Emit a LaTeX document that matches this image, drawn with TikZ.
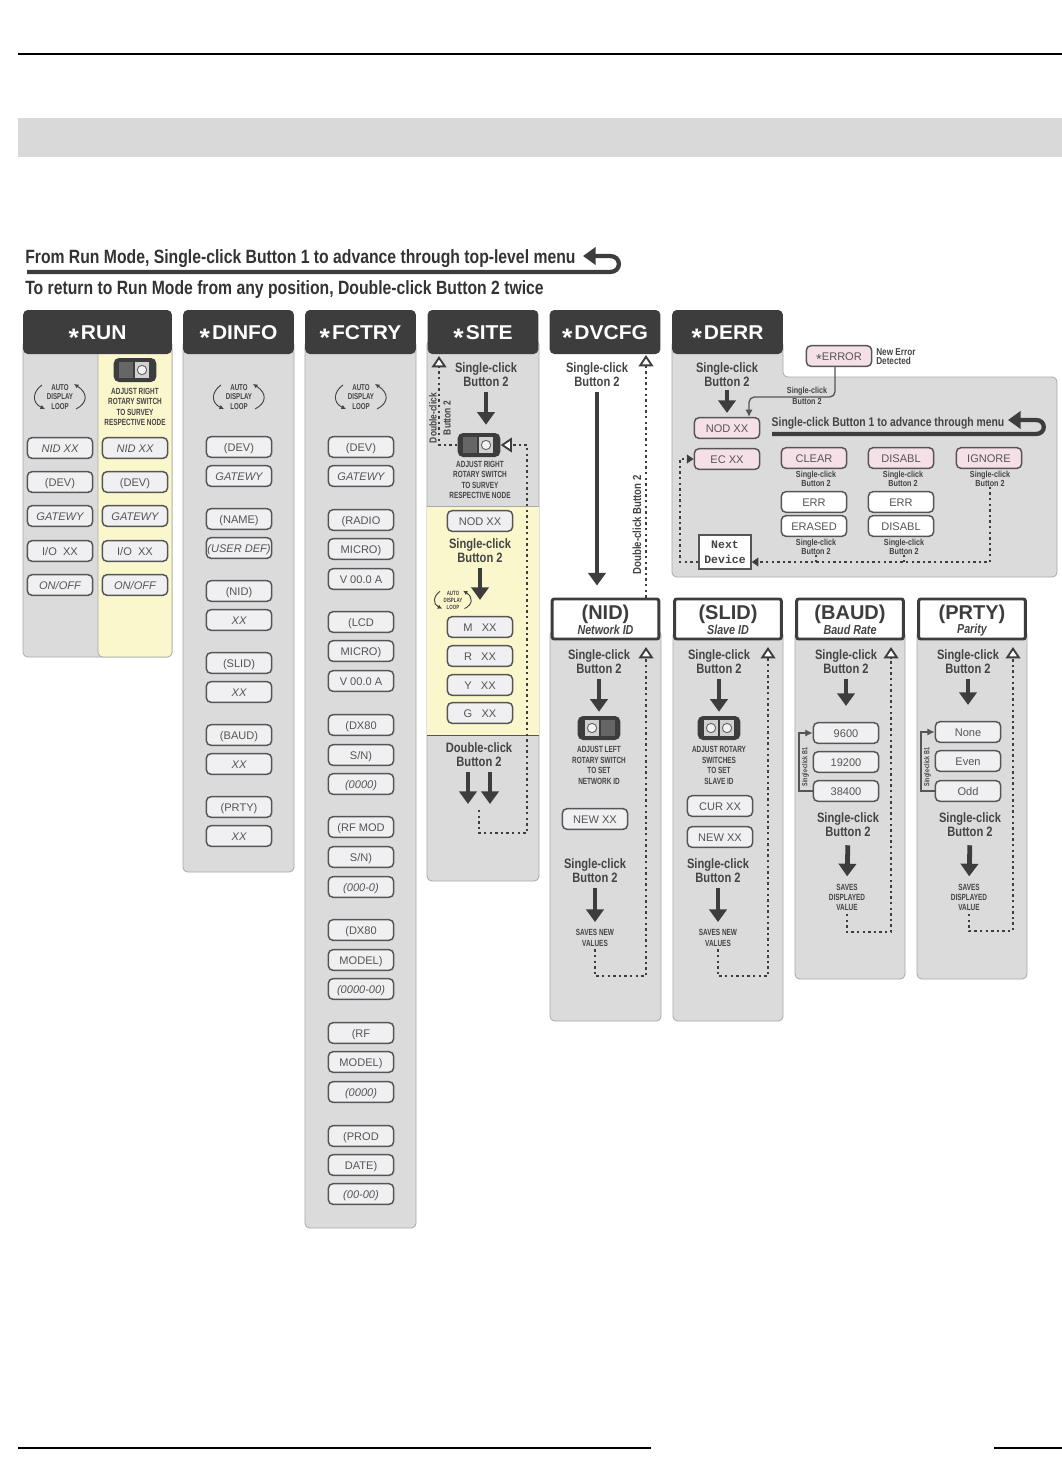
\documentclass[tikz,border=0pt]{standalone}
\usepackage{fontspec}
\setmainfont{Liberation Sans}
\setmonofont{Liberation Mono}
\newfontfamily\condfont[FakeStretch=0.82]{Liberation Sans}
\newfontfamily\tinyfont[FakeStretch=0.72]{Liberation Sans}
\newfontfamily\widefont[FakeStretch=1.05]{Liberation Sans}
\usepackage{xcolor}
\usetikzlibrary{arrows.meta,positioning,calc}
\definecolor{hdrdark}{HTML}{3D3D3D}
\definecolor{panelgray}{HTML}{DBDBDB}
\definecolor{paneledge}{HTML}{A8A8A8}
\definecolor{bandgray}{HTML}{D9D9D9}
\definecolor{noteyellow}{HTML}{FBF7CD}
\definecolor{disppink}{HTML}{F6E0E8}
\definecolor{dispfill}{HTML}{F0F0F2}
\definecolor{dispedge}{HTML}{555555}
\definecolor{inktext}{HTML}{444444}
\newcommand{\hstar}{\raisebox{-5.5pt}[0pt][0pt]{\fontsize{19}{19}\selectfont *}\hspace{1.5pt}}
\newcommand{\lstar}{\raisebox{-3pt}[0pt][0pt]{\fontsize{11}{11}\selectfont *}}

\tikzset{
    autoloop/.pic={
        \node[loopword] (-txt) at (0,0) {AUTO\\DISPLAY\\LOOP};
        \draw[loopline] (-18,-12) .. controls (-28,-5) and (-28,6) .. (-15,12);
        \draw[loopline] (16,12) .. controls (28,6) and (28,-4) .. (14,-13);
    },
    switchright/.pic={
        \node[switchbody] (-body) at (0,0) {};
        \node[switchdark] (-dark) at (-9,0) {};
        \node[switchface] (-face) at (7,0) {};
        \node[switchdial] (-dial) at (7,0) {};
    },
    switchleft/.pic={
        \node[switchbody] (-body) at (0,0) {};
        \node[switchdark] (-dark) at (9,0) {};
        \node[switchface] (-face) at (-7,0) {};
        \node[switchdial] (-dial) at (-7,0) {};
    },
    switchboth/.pic={
        \node[switchbody] (-body) at (0,0) {};
        \node[switchface] (-facea) at (-8,0) {};
        \node[switchdial] (-diala) at (-8,0) {};
        \node[switchface] (-faceb) at (8,0) {};
        \node[switchdial] (-dialb) at (8,0) {};
    }
}

\begin{document}
\begin{tikzpicture}[
    x=0.75pt, y=-0.75pt,
    disp/.style={rectangle, draw=dispedge, fill=dispfill, rounded corners=3.5pt, line width=1.1pt, minimum width=49pt, minimum height=15.5pt, inner sep=0pt, text height=6pt, text depth=0pt, text=dispedge, font=\fontsize{8.3}{9}\selectfont},
    dispit/.style={disp, font=\fontsize{8.3}{9}\selectfont\itshape},
    pinkdisp/.style={disp, fill=disppink},
    whitedisp/.style={disp, fill=white},
    hdr/.style={rectangle, fill=hdrdark, rounded corners=3.5pt, minimum width=83pt, minimum height=33pt, inner sep=0pt, text height=10.8pt, text depth=0pt, text=white, font=\widefont\fontsize{15}{16}\selectfont\bfseries},
    hdrbox/.style={rectangle, draw=hdrdark, fill=white, rounded corners=1.5pt, line width=2.2pt, minimum width=80pt, minimum height=30pt, inner sep=0pt},
    hdrname/.style={inner sep=0pt, text=hdrdark, font=\fontsize{15}{16}\selectfont\bfseries},
    hdrsub/.style={inner sep=0pt, text=inktext, font=\condfont\fontsize{9.8}{10}\selectfont\bfseries\itshape},
    panel/.style={draw=paneledge, fill=panelgray, line width=0.6pt, rounded corners=3.5pt},
    notepart/.style={draw=paneledge, fill=noteyellow, line width=0.5pt, rounded corners=3.5pt},
    clicktxt/.style={align=center, inner sep=0pt, text=inktext, font=\condfont\fontsize{10.2}{10.5}\selectfont\bfseries},
    smallclick/.style={align=center, inner sep=0pt, text=inktext, font=\condfont\fontsize{6.6}{6.4}\selectfont\bfseries},
    fineprint/.style={align=center, inner sep=0pt, text=inktext, font=\tinyfont\fontsize{6.7}{7.8}\selectfont\bfseries},
    headtxt/.style={anchor=west, inner sep=0pt, text=black!80, font=\condfont\fontsize{14.4}{16}\selectfont\bfseries},
    loopword/.style={align=center, inner sep=0pt, text=inktext, font=\tinyfont\fontsize{6.4}{7.4}\selectfont\bfseries},
    loopline/.style={draw=inktext, line width=0.7pt, -{Latex[length=3.4pt,width=3.4pt]}},
    switchbody/.style={rectangle, fill=hdrdark, rounded corners=4pt, minimum width=32pt, minimum height=18pt, inner sep=0pt},
    switchdark/.style={rectangle, fill=black!60, minimum width=10pt, minimum height=12pt, inner sep=0pt},
    switchface/.style={rectangle, fill=black!18, minimum width=11pt, minimum height=12pt, inner sep=0pt},
    switchdial/.style={circle, draw=black!60, fill=black!5, line width=0.7pt, minimum size=7pt, inner sep=0pt},
    bigdown/.style={draw=hdrdark, line width=3.6pt, -{Triangle[length=9.5pt,width=13pt]}, shorten <=3.5pt},
    hook/.style={draw=hdrdark, line width=3.2pt, -{Triangle[length=9.5pt,width=13pt]}},
    dotline/.style={draw=hdrdark, line width=2pt, dash pattern=on 1.8pt off 2.4pt},
    dotback/.style={dotline, -{Triangle[open,fill=white,length=8.5pt,width=11pt,line width=1.4pt]}},
    dotfwd/.style={dotline, -{Triangle[length=5pt,width=6.5pt]}},
    thinlink/.style={draw=dispedge, line width=1pt, rounded corners=4pt, -{Latex[length=5.5pt,width=5.5pt]}}
]
    \useasboundingbox (0,0) rectangle (1062,1480);

    % Page rules and band
    \draw[black, line width=1.2pt] (18,54) -- (1062,54);
    \fill[bandgray] (18,118) rectangle (1062,157);
    \draw[black, line width=1.2pt] (18,1448) -- (651,1448);
    \draw[black, line width=1.2pt] (994,1448) -- (1062,1448);

    % Top instruction
    \node[headtxt] (toptxt) at (25,258.5) {From Run Mode, Single-click Button 1 to advance through top-level menu};
    \node[headtxt] (returntxt) at (25,289.5) {To return to Run Mode from any position, Double-click Button 2 twice};
    \coordinate (hookstart) at (27,272);
    \coordinate (hookturn) at (610,272);
    \coordinate (hookback) at (610,256);
    \coordinate (hookend) at (583,256);
    \draw[hook] (hookstart) -- (hookturn) to[out=0,in=0,looseness=1.9] (hookback) -- (hookend);

    % Panels
    \draw[panel] (23,340) rectangle (172,657);
    \draw[notepart] (98,345) rectangle (172,657);
    \draw[panel] (183,340) rectangle (294,872);
    \draw[panel] (305,340) rectangle (416,1228);
    \draw[panel] (427,340) rectangle (539,881);
    \fill[noteyellow] (427,506) rectangle (539,735);
    \draw[paneledge, line width=0.7pt] (427,506) -- (539,506);
    \draw[dispedge, line width=0.7pt] (427,735) -- (539,735);
    \draw[panel] (672,340) -- (672,577) -- (1057,577) -- (1057,377) -- (783,377) -- (783,340) -- cycle;
    \draw[panel] (550,630) rectangle (661,1021);
    \draw[panel] (673,630) rectangle (783,1021);
    \draw[panel] (795,630) rectangle (905,979);
    \draw[panel] (917,630) rectangle (1027,979);

    % Headers
    \node[hdr, minimum width=111.5pt] (runhdr) at (97.5,332) {\hstar RUN};
    \node[hdr] (dinfohdr) at (238.5,332) {\hstar DINFO};
    \node[hdr] (fctryhdr) at (360.5,332) {\hstar FCTRY};
    \node[hdr] (sitehdr) at (483,332) {\hstar SITE};
    \node[hdr] (dvcfghdr) at (605,332) {\hstar DVCFG};
    \node[hdr] (derrhdr) at (727.5,332) {\hstar DERR};
    \node[hdrbox] (nidhdr) at (605.5,619) {};
    \node[hdrbox] (slidhdr) at (728,619) {};
    \node[hdrbox] (baudhdr) at (850,619) {};
    \node[hdrbox] (prtyhdr) at (972,619) {};
    \node[hdrname] (nidname) at (605.5,614.5) {(NID)};
    \node[hdrname] (slidname) at (728,614.5) {(SLID)};
    \node[hdrname] (baudname) at (850,614.5) {(BAUD)};
    \node[hdrname] (prtyname) at (972,614.5) {(PRTY)};
    \node[hdrsub] (nidsub) at (605.5,630) {Network ID};
    \node[hdrsub] (slidsub) at (728,630) {Slave ID};
    \node[hdrsub] (baudsub) at (850,630) {Baud Rate};
    \node[hdrsub] (prtysub) at (972,630) {Parity};

    % RUN
    \pic (runloop) at (60,397) {autoloop};
    \pic (runswitch) at (135,370) {switchright};
    \node[fineprint] (runnote) at (135,407) {ADJUST RIGHT\\ROTARY SWITCH\\TO SURVEY\\RESPECTIVE NODE};
    \node[dispit] (runa) at (60,448) {NID XX};
    \node[disp] (runb) at (60,482) {(DEV)};
    \node[dispit] (runc) at (60,516) {GATEWY};
    \node[disp] (rund) at (60,551) {I/O\ \ XX};
    \node[dispit] (rune) at (60,585) {ON/OFF};
    \node[dispit] (runf) at (135,448) {NID XX};
    \node[disp] (rung) at (135,482) {(DEV)};
    \node[dispit] (runh) at (135,516) {GATEWY};
    \node[disp] (runi) at (135,551) {I/O\ \ XX};
    \node[dispit] (runj) at (135,585) {ON/OFF};

    % DINFO
    \pic (dinfoloop) at (239,397) {autoloop};
    \node[disp] (dinfoa) at (239,447) {(DEV)};
    \node[dispit] (dinfob) at (239,476) {GATEWY};
    \node[disp] (dinfoc) at (239,519) {(NAME)};
    \node[dispit] (dinfod) at (239,548) {(USER DEF)};
    \node[disp] (dinfoe) at (239,591) {(NID)};
    \node[dispit] (dinfof) at (239,620) {XX};
    \node[disp] (dinfog) at (239,663) {(SLID)};
    \node[dispit] (dinfoh) at (239,692) {XX};
    \node[disp] (dinfoi) at (239,735) {(BAUD)};
    \node[dispit] (dinfoj) at (239,764) {XX};
    \node[disp] (dinfok) at (239,807) {(PRTY)};
    \node[dispit] (dinfol) at (239,836) {XX};

    % FCTRY
    \pic (fctryloop) at (361,397) {autoloop};
    \node[disp] (fctrya) at (361,447) {(DEV)};
    \node[dispit] (fctryb) at (361,476) {GATEWY};
    \node[disp] (fctryc) at (361,520) {(RADIO};
    \node[disp] (fctryd) at (361,549) {MICRO)};
    \node[disp] (fctrye) at (361,579) {V 00.0 A};
    \node[disp] (fctryf) at (361,622) {(LCD};
    \node[disp] (fctryg) at (361,651) {MICRO)};
    \node[disp] (fctryh) at (361,681) {V 00.0 A};
    \node[disp] (fctryi) at (361,725) {(DX80};
    \node[disp] (fctryj) at (361,755) {S/N)};
    \node[dispit] (fctryk) at (361,784) {(0000)};
    \node[disp] (fctryl) at (361,827) {(RF MOD};
    \node[disp] (fctrym) at (361,857) {S/N)};
    \node[dispit] (fctryn) at (361,887) {(000-0)};
    \node[disp] (fctryo) at (361,930) {(DX80};
    \node[disp] (fctryp) at (361,960) {MODEL)};
    \node[dispit] (fctryq) at (361,989) {(0000-00)};
    \node[disp] (fctryr) at (361,1033) {(RF};
    \node[disp] (fctrys) at (361,1062) {MODEL)};
    \node[dispit] (fctryt) at (361,1092) {(0000)};
    \node[disp] (fctryu) at (361,1136) {(PROD};
    \node[disp] (fctryv) at (361,1165) {DATE)};
    \node[dispit] (fctryw) at (361,1194) {(00-00)};

    % SITE
    \node[clicktxt] (sitetxta) at (486,375) {Single-click\\Button 2};
    \pic (siteswitch) at (479,445) {switchright};
    \node[fineprint] (sitenote) at (480,480) {ADJUST RIGHT\\ROTARY SWITCH\\TO SURVEY\\RESPECTIVE NODE};
    \node[disp] (sitenod) at (480,521) {NOD XX};
    \node[clicktxt] (sitetxtb) at (480,551) {Single-click\\Button 2};
    \pic[scale=0.72, transform shape] (siteloop) at (453,600) {autoloop};
    \node[disp] (sitem) at (480,627) {M\ \ \ XX};
    \node[disp] (siter) at (480,656) {R\ \ \ XX};
    \node[disp] (sitey) at (480,685) {Y\ \ \ XX};
    \node[disp] (siteg) at (480,713) {G\ \ \ XX};
    \node[clicktxt] (sitetxtc) at (479,755) {Double-click\\Button 2};
    \node[align=center, inner sep=0pt, rotate=90, text=inktext, font=\condfont\fontsize{7.7}{10.5}\selectfont\bfseries] (sitedbl) at (440,418) {Double-click\\Button 2};
    \coordinate (sitetri) at (439,356);
    \coordinate (sitedblleft) at (468,772);
    \coordinate (sitedblleftend) at (468,804);
    \coordinate (sitedblright) at (490,772);
    \coordinate (sitedblrightend) at (490,804);
    \coordinate (sitedotstart) at (479,810);
    \coordinate (sitecornera) at (527,833);
    \coordinate (sitecornerb) at (527,445);
    \draw[bigdown, shorten >=6pt] (sitetxta.south) -- (siteswitch-body.north -| sitetxta.south);
    \draw[bigdown, shorten >=12pt] (sitetxtb.south) -- (sitem.north);
    \draw[bigdown, shorten <=0pt] (sitedblleft) -- (sitedblleftend);
    \draw[bigdown, shorten <=0pt] (sitedblright) -- (sitedblrightend);
    \draw[dotback] (sitedotstart) |- (sitecornera) -- (sitecornerb) -- (siteswitch-body.east);
    \draw[dotback] (siteswitch-body.west) -| (sitetri);

    % DVCFG
    \node[clicktxt] (dvcfgtxt) at (597,375) {Single-click\\Button 2};
    \node[inner sep=0pt, rotate=90, text=inktext, font=\condfont\fontsize{8.8}{10}\selectfont\bfseries] (dvcfgdbl) at (637,525) {Double-click Button 2};
    \coordinate (dvcfgtri) at (646,355);
    \draw[bigdown, shorten >=9pt] (dvcfgtxt.south) -- (nidhdr.north -| dvcfgtxt.south);
    \draw[dotback] (nidhdr.north -| dvcfgtri) -- (dvcfgtri);

    % DERR
    \node[clicktxt] (derrtxt) at (727,375) {Single-click\\Button 2};
    \node[disp, fill=disppink] (errbox) at (839,356) {\lstar ERROR};
    \node[anchor=west, align=left, inner sep=0pt, text=inktext, font=\condfont\fontsize{7.5}{6.8}\selectfont\bfseries] (errnote) at (876,357) {New Error\\Detected};
    \node[smallclick] (errclick) at (807,396) {Single-click\\[2pt]Button 2};
    \node[pinkdisp] (nodxx) at (727,428) {NOD XX};
    \node[pinkdisp] (ecxx) at (727,459) {EC XX};
    \node[pinkdisp] (clearbox) at (814,458) {CLEAR};
    \node[pinkdisp] (disablbox) at (901,458) {DISABL};
    \node[pinkdisp] (ignorebox) at (989,458) {IGNORE};
    \node[smallclick] (cleartxt) at (816,479) {Single-click\\Button 2};
    \node[smallclick] (disabltxt) at (903,479) {Single-click\\Button 2};
    \node[smallclick] (ignoretxt) at (990,479) {Single-click\\Button 2};
    \node[whitedisp] (errc) at (814,502) {ERR};
    \node[whitedisp] (errd) at (901,502) {ERR};
    \node[whitedisp] (erased) at (814,526) {ERASED};
    \node[whitedisp] (disabled) at (901,526) {DISABL};
    \node[smallclick] (erasedtxt) at (816,547) {Single-click\\Button 2};
    \node[smallclick] (disabledtxt) at (904,547) {Single-click\\Button 2};
    \node[rectangle, draw=dispedge, fill=white, line width=1.1pt, minimum width=39pt, minimum height=25.5pt, inner sep=0pt, align=center, text=inktext, font=\ttfamily\fontsize{8.6}{11}\selectfont\bfseries] (nextdev) at (725,552) {Next\\Device};
    \node[inner sep=0pt, text=inktext, font=\condfont\fontsize{9.5}{10}\selectfont\bfseries] (menutxt) at (888,423) {Single-click Button 1 to advance through menu};
    \coordinate (errtap) at (835,397);
    \coordinate (errdrop) at (749,397);
    \coordinate (nodtop) at (749,417);
    \coordinate (menustart) at (772,434);
    \coordinate (menuturn) at (1036,434);
    \coordinate (menuback) at (1036,420);
    \coordinate (menuend) at (1008,420);
    \coordinate (nextline) at (990,562);
    \coordinate (nextleft) at (680,562);
    \draw[bigdown, shorten <=2pt, shorten >=3pt] (derrtxt.south) -- (nodxx.north);
    \draw[thinlink] (errbox.south -| errtap) -- (errtap) -- (errdrop) -- (nodtop);
    \draw[hook] (menustart) -- (menuturn) to[out=0,in=0,looseness=1.9] (menuback) -- (menuend);
    \draw[dotfwd] (ignoretxt.south) |- ([yshift=-7.5pt]nextdev.east);
    \draw[dotline] (erasedtxt.south) -- (erasedtxt.south |- nextline);
    \draw[dotline] (disabledtxt.south) -- (disabledtxt.south |- nextline);
    \draw[dotfwd] ([yshift=-7.5pt]nextdev.west) -- (nextleft) |- (ecxx.west);

    % NID
    \node[clicktxt] (nidtxta) at (599,662) {Single-click\\Button 2};
    \pic (nidswitch) at (599,728) {switchleft};
    \node[fineprint] (nidnote) at (599,765.5) {ADJUST LEFT\\ROTARY SWITCH\\TO SET\\NETWORK ID};
    \node[disp] (nidnew) at (595,819) {NEW XX};
    \node[clicktxt] (nidtxtb) at (595,871) {Single-click\\Button 2};
    \node[fineprint] (nidsave) at (595,938) {SAVES NEW\\VALUES};
    \coordinate (nidcorner) at (646,976);
    \coordinate (nidtri) at (646,647);
    \draw[bigdown, shorten >=3pt] (nidtxta.south) -- (nidswitch-body.north);
    \draw[bigdown, shorten >=5.5pt] (nidtxtb.south) -- (nidsave.north);
    \draw[dotback, shorten <=2pt] (nidsave.south) |- (nidcorner) -- (nidtri);

    % SLID
    \node[clicktxt] (slidtxta) at (719,662) {Single-click\\Button 2};
    \pic (slidswitch) at (719,728) {switchboth};
    \node[fineprint] (slidnote) at (719,765.5) {ADJUST ROTARY\\SWITCHES\\TO SET\\SLAVE ID};
    \node[disp] (slidcur) at (720,806) {CUR XX};
    \node[disp] (slidnew) at (720,837) {NEW XX};
    \node[clicktxt] (slidtxtb) at (718,871) {Single-click\\Button 2};
    \node[fineprint] (slidsave) at (718,938) {SAVES NEW\\VALUES};
    \coordinate (slidcorner) at (768,976);
    \coordinate (slidtri) at (768,647);
    \draw[bigdown, shorten >=3pt] (slidtxta.south) -- (slidswitch-body.north);
    \draw[bigdown, shorten >=5.5pt] (slidtxtb.south) -- (slidsave.north);
    \draw[dotback, shorten <=2pt] (slidsave.south) |- (slidcorner) -- (slidtri);

    % BAUD
    \node[clicktxt] (baudtxta) at (846,662) {Single-click\\Button 2};
    \node[disp] (baud96) at (846,733) {9600};
    \node[disp] (baud19) at (846,762) {19200};
    \node[disp] (baud38) at (846,791) {38400};
    \node[clicktxt] (baudtxtb) at (848,825) {Single-click\\Button 2};
    \node[fineprint] (baudsave) at (847,897.5) {SAVES\\DISPLAYED\\VALUE};
    \node[inner sep=0pt, rotate=90, text=inktext, font=\tinyfont\fontsize{5.6}{6}\selectfont\bfseries] (baudb) at (805.5,767) {Single-click B1};
    \coordinate (baudloop) at (799,762);
    \coordinate (baudcorner) at (891,932);
    \coordinate (baudtri) at (891,647);
    \draw[bigdown, shorten >=12pt] (baudtxta.south) -- (baudtxta.south |- baud96.north);
    \draw[bigdown, shorten <=6pt, shorten >=5.5pt] (baudtxtb.south) -- (baudsave.north);
    \draw[thinlink, rounded corners=0pt] (baud38.west) -| (baudloop) |- (baud96.west);
    \draw[dotback, shorten <=2pt] (baudsave.south) |- (baudcorner) -- (baudtri);

    % PRTY
    \node[clicktxt] (prtytxta) at (968,662) {Single-click\\Button 2};
    \node[disp] (prtynone) at (968,732) {None};
    \node[disp] (prtyeven) at (968,761) {Even};
    \node[disp] (prtyodd) at (968,791) {Odd};
    \node[clicktxt] (prtytxtb) at (970,825) {Single-click\\Button 2};
    \node[fineprint] (prtysave) at (969,897.5) {SAVES\\DISPLAYED\\VALUE};
    \node[inner sep=0pt, rotate=90, text=inktext, font=\tinyfont\fontsize{5.6}{6}\selectfont\bfseries] (prtyb) at (927.5,767) {Single-click B1};
    \coordinate (prtyloop) at (921,761);
    \coordinate (prtycorner) at (1013,931);
    \coordinate (prtytri) at (1013,647);
    \draw[bigdown, shorten >=12pt] (prtytxta.south) -- (prtytxta.south |- prtynone.north);
    \draw[bigdown, shorten <=6pt, shorten >=5.5pt] (prtytxtb.south) -- (prtysave.north);
    \draw[thinlink, rounded corners=0pt] (prtyodd.west) -| (prtyloop) |- (prtynone.west);
    \draw[dotback, shorten <=2pt] (prtysave.south) |- (prtycorner) -- (prtytri);

\end{tikzpicture}
\end{document}
